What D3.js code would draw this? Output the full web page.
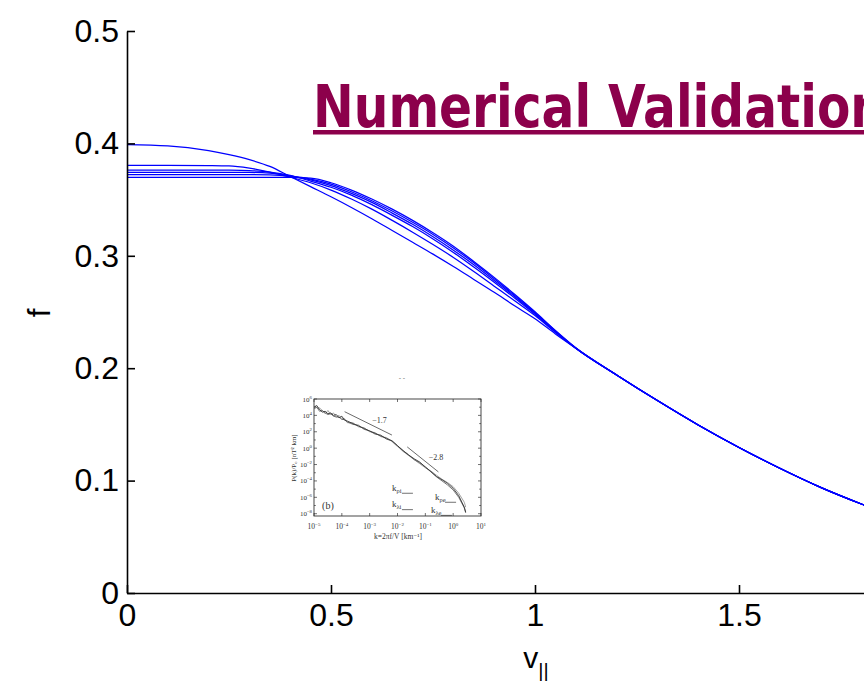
<!DOCTYPE html>
<html><head><meta charset="utf-8">
<script src="https://cdn.jsdelivr.net/npm/d3@7"></script>
<style>body{margin:0;background:#fff;overflow:hidden}svg{display:block}</style>
</head><body>
<script>
// ---------- main chart data ----------
const vGrid = [0,0.1,0.2,0.25,0.3,0.35,0.4,0.45,0.5,0.55,0.6,0.65,0.7,0.75,0.8,0.85,0.9,0.95,1.0,1.05,1.1,1.2,1.3,1.4,1.5,1.6,1.7,1.8,1.9,2.0];
const fMaxwell = [0.3990,0.3978,0.3935,0.3900,0.3855,0.3795,0.3705,0.3615,0.3525,0.3430,0.3330,0.3225,0.3120,0.3015,0.2905,0.2790,0.2675,0.2555,0.2440,0.2305,0.2178,0.1940,0.1712,0.1495,0.1295,0.1110,0.0940,0.0792,0.0658,0.0542];
const fRun1 = [0.3805,0.3805,0.3803,0.3800,0.3780,0.3745,0.3700,0.3650,0.3585,0.3505,0.3415,0.3315,0.3210,0.3100,0.2985,0.2860,0.2730,0.2600,0.2468,0.2318,0.2178,0.1940,0.1712,0.1495,0.1295,0.1110,0.0940,0.0792,0.0658,0.0542];
const fRun2 = [0.3763,0.3763,0.3763,0.3762,0.3758,0.3745,0.3715,0.3665,0.3610,0.3540,0.3455,0.3360,0.3260,0.3150,0.3030,0.2900,0.2765,0.2625,0.2480,0.2325,0.2178,0.1940,0.1712,0.1495,0.1295,0.1110,0.0940,0.0792,0.0658,0.0542];
const fRun3 = [0.3743,0.3743,0.3743,0.3743,0.3742,0.3735,0.3712,0.3676,0.3625,0.3555,0.3475,0.3380,0.3280,0.3170,0.3050,0.2920,0.2780,0.2638,0.2488,0.2328,0.2178,0.1940,0.1712,0.1495,0.1295,0.1110,0.0940,0.0792,0.0658,0.0542];
const fRun4 = [0.3722,0.3722,0.3722,0.3722,0.3722,0.3720,0.3708,0.3683,0.3638,0.3570,0.3490,0.3398,0.3298,0.3190,0.3070,0.2938,0.2795,0.2648,0.2495,0.2332,0.2180,0.1940,0.1712,0.1495,0.1295,0.1110,0.0940,0.0792,0.0658,0.0542];
const fRun5 = [0.3698,0.3698,0.3698,0.3698,0.3698,0.3698,0.3697,0.3690,0.3650,0.3585,0.3505,0.3415,0.3315,0.3205,0.3085,0.2950,0.2808,0.2658,0.2502,0.2336,0.2182,0.1940,0.1712,0.1495,0.1295,0.1110,0.0940,0.0792,0.0658,0.0542];
const xTicks = [0,0.5,1,1.5];
const xTickLabels = ["0","0.5","1","1.5"];
const yTicks = [0,0.1,0.2,0.3,0.4,0.5];
const yTickLabels = ["0","0.1","0.2","0.3","0.4","0.5"];
const titleText = "Numerical Validation";

// ---------- inset data (log10 units) ----------
const insetLogK = [-5,-4.9,-4.8,-4.7,-4.6,-4.5,-4.4,-4.3,-4.2,-4.1,-4.0,-3.9,-3.8,-3.6,-3.4,-3.2,-3.0,-2.8,-2.6,-2.4,-2.2,-2.0,-1.8,-1.6,-1.4,-1.2,-1.0,-0.8,-0.6,-0.4,-0.2,0.0,0.2,0.4,0.45];
const insetSpecA = [5.0,5.2,4.7,4.4,4.5,4.2,4.3,4.0,4.1,3.7,3.9,3.4,3.3,3.0,2.7,2.4,2.1,1.8,1.5,1.2,0.9,0.3,-0.3,-0.85,-1.3,-1.7,-2.3,-2.85,-3.45,-3.85,-4.3,-4.9,-5.8,-7.2,-7.8];
const insetSpecB = [5.3,4.9,4.9,4.6,4.2,4.6,4.1,4.3,3.8,4.0,3.6,3.6,3.1,3.1,2.6,2.5,2.0,1.9,1.4,1.3,0.8,0.2,-0.4,-0.9,-1.4,-1.9,-2.4,-2.8,-3.3,-3.8,-4.2,-4.7,-5.5,-6.6,-7.2];
const insetSpecC = [4.8,5.0,4.5,4.6,4.3,4.1,4.2,3.9,3.8,3.8,3.5,3.5,3.2,2.9,2.8,2.3,2.1,1.7,1.6,1.1,0.9,0.3,-0.3,-0.8,-1.4,-1.8,-2.3,-2.9,-3.5,-4.0,-4.5,-5.1,-6.0,-7.3,-7.9];
const insetXTickExp = [-5,-4,-3,-2,-1,0,1];
const insetYTickExp = [6,4,2,0,-2,-4,-6,-8];
const insetSlopes = [
  {k1:-3.9,p1:4.45,k2:-2.2,p2:1.6,label:"\u22121.7",lk:-2.65,lp:3.1},
  {k1:-1.65,p1:0.15,k2:-0.53,p2:-2.9,label:"\u22122.8",lk:-0.62,lp:-1.45}
];
const insetScales = [
  {main:"k",sub:"\u03c1i",k:-2.2,p:-5.2},
  {main:"k",sub:"\u03bbi",k:-2.2,p:-7.2},
  {main:"k",sub:"\u03c1e",k:-0.65,p:-6.3},
  {main:"k",sub:"\u03bbe",k:-0.8,p:-7.9}
];

const W = 864, H = 681;
const svg = d3.select("body").append("svg").attr("width", W).attr("height", H);

// ---------- main axes ----------
const x = d3.scaleLinear().domain([0, 2]).range([127, 943]);
const y = d3.scaleLinear().domain([0, 0.5]).range([593, 31]);

const line = d3.line().x((d, i) => x(vGrid[i])).y(d => y(d)).curve(d3.curveMonotoneX);
const runs = [fMaxwell, fRun1, fRun2, fRun3, fRun4, fRun5];
svg.append("g").selectAll("path").data(runs).join("path")
  .attr("d", d => line(d))
  .attr("fill", "none").attr("stroke", "#0000ff").attr("stroke-width", 1.25);

const fontAxis = "'Liberation Sans', Arial, sans-serif";
const gx = svg.append("g").attr("transform", "translate(0,593)")
  .call(d3.axisBottom(x).tickValues(xTicks).tickFormat((d, i) => xTickLabels[i])
    .tickSizeInner(-8).tickSizeOuter(0).tickPadding(10));
const gy = svg.append("g").attr("transform", "translate(127,0)")
  .call(d3.axisLeft(y).tickValues(yTicks).tickFormat((d, i) => yTickLabels[i])
    .tickSizeInner(-8).tickSizeOuter(0).tickPadding(8));
[gx, gy].forEach(g => {
  g.select(".domain").attr("stroke", "#000").attr("stroke-width", 1.6);
  g.selectAll(".tick line").attr("stroke", "#000").attr("stroke-width", 1.6);
  g.selectAll(".tick text").attr("fill", "#000").style("font-family", fontAxis).style("font-size", "32px");
});

// axis titles
const xt = svg.append("text").attr("x", 536).attr("y", 668).attr("text-anchor", "middle")
  .style("font-family", fontAxis).style("font-size", "30px").attr("fill", "#000");
xt.append("tspan").text("v");
xt.append("tspan").attr("dy", 10).style("font-size", "20px").text("||");
svg.append("text").attr("transform", "translate(50,313) rotate(-90)").attr("text-anchor", "middle")
  .style("font-family", fontAxis).style("font-size", "31px").attr("fill", "#000").text("f");

// ---------- title ----------
const titleColor = "#8c004b";
svg.append("text").attr("x", 313).attr("y", 127)
  .style("font-family", "'DejaVu Sans', Verdana, sans-serif").style("font-weight", "bold").style("font-size", "58px")
  .attr("textLength", 572).attr("lengthAdjust", "spacingAndGlyphs")
  .attr("fill", titleColor).text(titleText);
svg.append("rect").attr("x", 313).attr("y", 130).attr("width", 600).attr("height", 4.5).attr("fill", titleColor);

// ---------- inset ----------
const ix = d3.scaleLinear().domain([-5, 1]).range([314, 481]);
const iy = d3.scaleLinear().domain([-8.28, 6]).range([516, 399]);
const inset = svg.append("g");
const serif = "'Liberation Serif', 'DejaVu Serif', serif";
const ink = "#333";

inset.append("rect").attr("x", ix(-5)).attr("y", iy(6)).attr("width", ix(1) - ix(-5)).attr("height", iy(-8.28) - iy(6))
  .attr("fill", "#fff").attr("stroke", ink).attr("stroke-width", 0.9);

d3.range(-5, 1.001, 1).forEach(k => {
  inset.append("line").attr("x1", ix(k)).attr("x2", ix(k)).attr("y1", iy(-8.28)).attr("y2", iy(-8.28) - 3).attr("stroke", ink).attr("stroke-width", 0.7);
  inset.append("line").attr("x1", ix(k)).attr("x2", ix(k)).attr("y1", iy(6)).attr("y2", iy(6) + 3).attr("stroke", ink).attr("stroke-width", 0.7);
});
d3.range(-8, 6.001, 1).forEach(p => {
  const len = (p % 2 === 0) ? 3 : 1.8;
  inset.append("line").attr("x1", ix(-5)).attr("x2", ix(-5) + len).attr("y1", iy(p)).attr("y2", iy(p)).attr("stroke", ink).attr("stroke-width", 0.7);
  inset.append("line").attr("x1", ix(1)).attr("x2", ix(1) - len).attr("y1", iy(p)).attr("y2", iy(p)).attr("stroke", ink).attr("stroke-width", 0.7);
});

insetXTickExp.forEach(e => {
  const t = inset.append("text").attr("x", ix(e)).attr("y", 529).attr("text-anchor", "middle")
    .style("font-family", serif).style("font-size", "7.5px").attr("fill", ink);
  t.append("tspan").text("10");
  t.append("tspan").attr("dy", -3).style("font-size", "5px").text(e < 0 ? "\u2212" + (-e) : String(e));
});
insetYTickExp.forEach(e => {
  const t = inset.append("text").attr("x", ix(-5) - 2).attr("y", iy(e) + 2.5).attr("text-anchor", "end")
    .style("font-family", serif).style("font-size", "7px").attr("fill", ink);
  t.append("tspan").text("10");
  t.append("tspan").attr("dy", -3).style("font-size", "4.8px").text(e < 0 ? "\u2212" + (-e) : String(e));
});

inset.append("text").attr("x", 398).attr("y", 539).attr("text-anchor", "middle")
  .style("font-family", serif).style("font-size", "7.5px").attr("fill", ink)
  .text("k=2\u03c0f/V [km\u207b\u00b9]");
inset.append("text").attr("transform", "translate(296,458) rotate(-90)").attr("text-anchor", "middle")
  .style("font-family", serif).style("font-size", "7px").attr("fill", ink)
  .text("P(k)/P\u2080 [nT\u00b2 km]");

const iline = d3.line().x((d, i) => ix(insetLogK[i])).y(d => iy(d));
[[insetSpecB, "#999"], [insetSpecC, "#666"], [insetSpecA, "#333"]].forEach(([s, c]) => {
  inset.append("path").attr("d", iline(s)).attr("fill", "none").attr("stroke", c).attr("stroke-width", 0.9);
});

insetSlopes.forEach(s => {
  inset.append("line").attr("x1", ix(s.k1)).attr("y1", iy(s.p1)).attr("x2", ix(s.k2)).attr("y2", iy(s.p2))
    .attr("stroke", "#444").attr("stroke-width", 0.8);
  inset.append("text").attr("x", ix(s.lk)).attr("y", iy(s.lp)).attr("text-anchor", "middle")
    .style("font-family", serif).style("font-size", "8px").attr("fill", ink).text(s.label);
});

insetScales.forEach(s => {
  const t = inset.append("text").attr("x", ix(s.k)).attr("y", iy(s.p))
    .style("font-family", serif).style("font-size", "9px").attr("fill", ink);
  t.append("tspan").text(s.main);
  t.append("tspan").attr("dy", 2).style("font-size", "6.5px").text(s.sub);
  inset.append("line").attr("x1", ix(s.k) + 10).attr("x2", ix(s.k) + 21).attr("y1", iy(s.p) + 2.5).attr("y2", iy(s.p) + 2.5)
    .attr("stroke", ink).attr("stroke-width", 0.7);
});
inset.append("text").attr("x", ix(-4.5)).attr("y", iy(-7.4)).attr("text-anchor", "middle")
  .style("font-family", serif).style("font-size", "10px").attr("fill", ink).text("(b)");
inset.append("text").attr("x", 402).attr("y", 380).attr("text-anchor", "middle")
  .style("font-family", serif).style("font-size", "7px").attr("fill", "#555").text("-   -");
</script>
</body></html>
